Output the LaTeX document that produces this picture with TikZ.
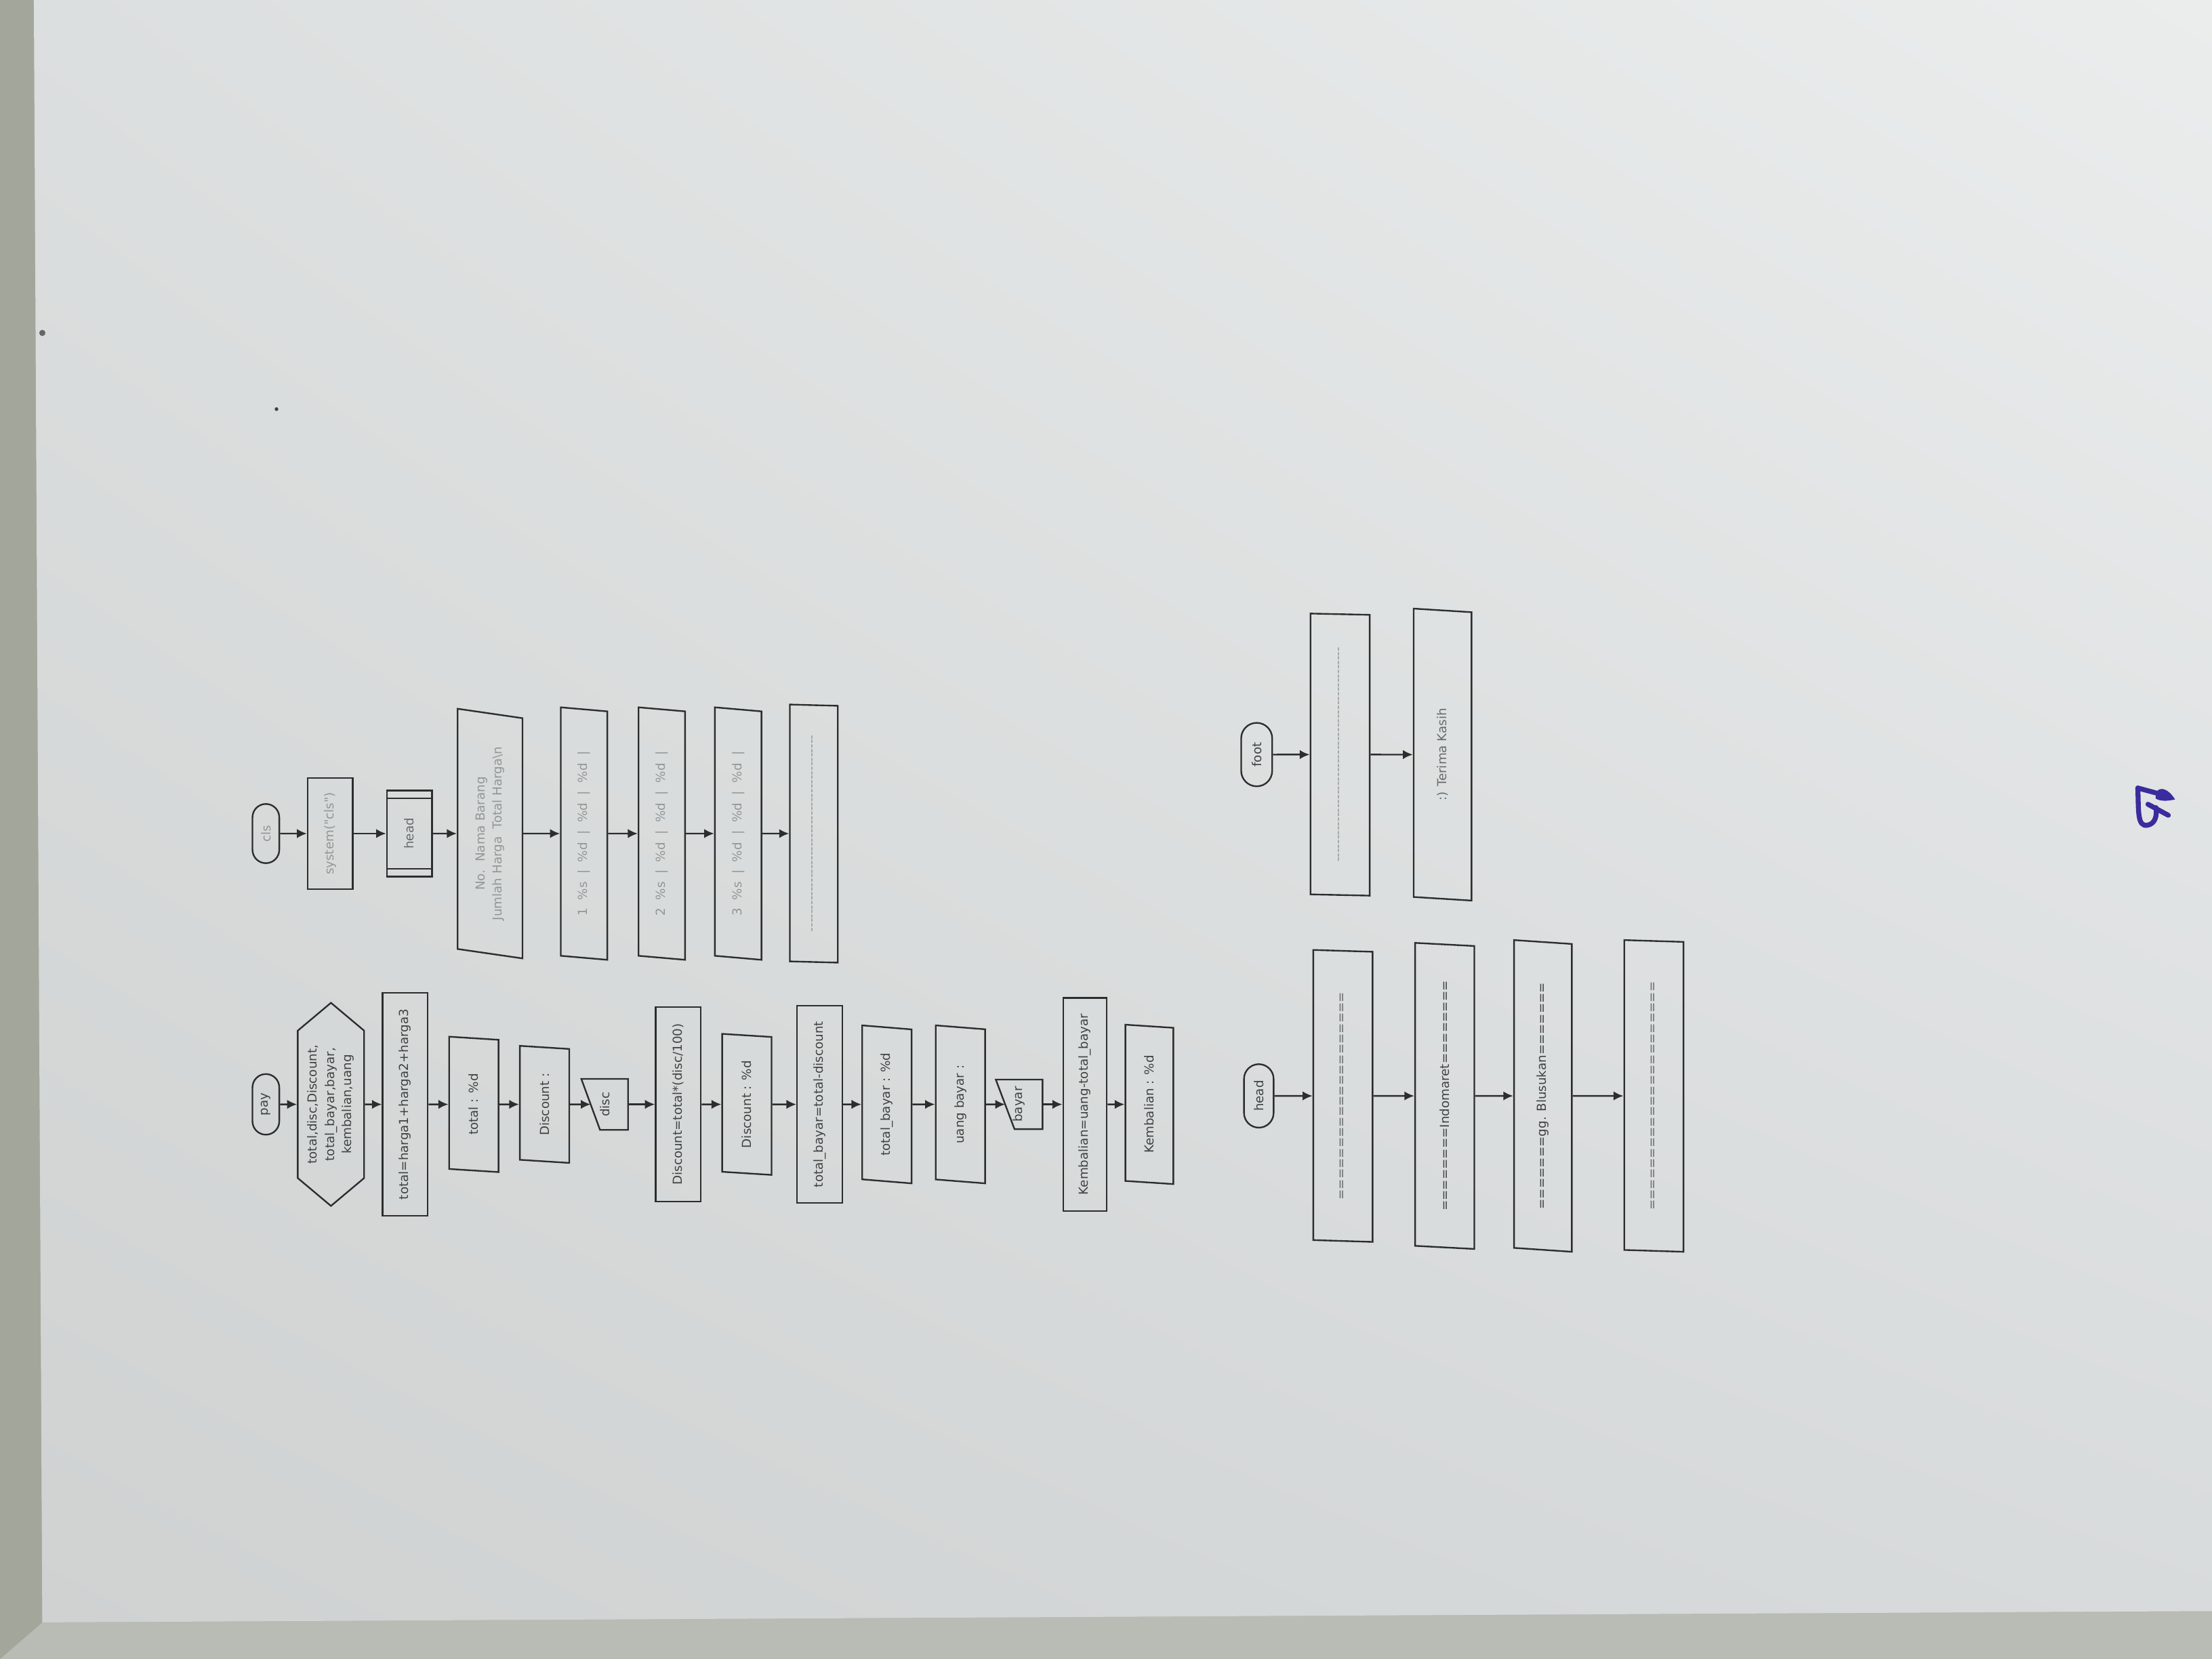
\documentclass[tikz,border=0pt]{standalone}
\usepackage{fontspec}
\newfontfamily\flowfont{DejaVu Sans}
\usetikzlibrary{arrows.meta, positioning, shapes.geometric, shapes.misc, shapes.symbols, calc, shadings}

\definecolor{linegray}{HTML}{2B2D2E}
\definecolor{inkgray}{HTML}{3F4243}
\definecolor{midgray}{HTML}{676B6C}
\definecolor{fadegray}{HTML}{929697}
\definecolor{penblue}{HTML}{3A2C9E}
\definecolor{deskleft}{HTML}{A2A69B}
\definecolor{deskbottom}{HTML}{B9BBB5}
\definecolor{paperUL}{HTML}{DCDFDF}
\definecolor{paperUR}{HTML}{EBEDED}
\definecolor{paperLL}{HTML}{CFD2D1}
\definecolor{paperLR}{HTML}{D8DBDC}

\newcommand{\hyrow}[1]{\foreach \i in {1,...,#1}{-}}

\begin{document}
\begin{tikzpicture}[
    x=0.02cm, y=-0.02cm,
    font=\flowfont\fontsize{5}{7}\selectfont,
    flow/.style={draw=linegray, line width=0.65pt, text=inkgray, inner sep=0pt, align=center},
    term/.style={flow, rounded rectangle, minimum width=8.6mm, minimum height=3.8mm},
    proc/.style={flow, rectangle, minimum height=6.4mm},
    io/.style={flow, trapezium, trapezium left angle=72, trapezium right angle=108, trapezium stretches body, minimum height=7mm},
    prep/.style={flow, signal, signal to=east and west, signal pointer angle=100, minimum height=9.4mm},
    manual/.style={flow, draw=none, rectangle, minimum width=7mm, minimum height=6.4mm},
    faint/.style={text=fadegray},
    outline/.style={draw=linegray, line width=0.65pt},
    arr/.style={-{Latex[length=1.4mm,width=1.3mm]}, draw=linegray, line width=0.65pt},
    penmark/.style={draw=penblue, line width=2pt, line cap=round, line join=round}
]

% ===== PHOTO BACKGROUND =====
\useasboundingbox (0,0) rectangle (1568,1176);
\fill[deskbottom] (0,0) rectangle (1568,1176);
\fill[deskleft] (0,0) -- (25,0) -- (30,1150) -- (0,1176) -- cycle;
\shade[upper left=paperUL, upper right=paperUR, lower left=paperLL, lower right=paperLR]
    (24,0) -- (1568,0) -- (1568,1142) -- (30,1150) -- cycle;

% specks on the sheet
\fill[black!75] (196,290) circle (1.3);
\fill[black!60] (30,236) circle (2.2);

% ===== FLOWCHARTS (page turned on its side) =====
\begin{scope}[x=0.2mm, y=0.2mm, rotate=90, transform shape]

% ----- pay -----
\node[term] (pay) at (-783,-188.5) {pay};
\node[prep, minimum width=28.8mm, below=2.4mm of pay] (vars) {total,disc,Discount,\\total\_bayar,bayar,\\kembalian,uang};
\node[proc, minimum width=31.6mm, below=2.4mm of vars] (sum) {total=harga1+harga2+harga3};
\node[io, minimum width=19.2mm, below=2.8mm of sum] (outTotal) {total : \%d};
\node[io, minimum width=16.6mm, below=2.8mm of outTotal] (outDisc) {Discount :};
\node[manual, below=1.6mm of outDisc] (inDisc) {disc};
\node[proc, minimum width=27.6mm, below=3.8mm of inDisc] (calcDisc) {Discount=total*(disc/100)};
\node[io, minimum width=20mm, below=2.8mm of calcDisc] (showDisc) {Discount : \%d};
\node[proc, minimum width=28mm, below=3.4mm of showDisc] (calcBayar) {total\_bayar=total-discount};
\node[io, minimum width=22.4mm, below=2.6mm of calcBayar] (showBayar) {total\_bayar : \%d};
\node[io, minimum width=22.4mm, below=3.2mm of showBayar] (askUang) {uang bayar :};
\node[manual, minimum width=6.8mm, below=1.4mm of askUang] (inBayar) {bayar};
\node[proc, minimum width=30.2mm, minimum height=6.2mm, below=2.8mm of inBayar] (calcKembali) {Kembalian=uang-total\_bayar};
\node[io, minimum width=22.6mm, minimum height=6.8mm, below=2.4mm of calcKembali] (showKembali) {Kembalian : \%d};

% ----- cls -----
\node[term, minimum width=8.4mm, faint] (cls) at (-591,-188.5) {cls};
\node[proc, minimum width=15.8mm, faint, below=3.8mm of cls] (sysCls) {system("cls")};
\node[proc, minimum width=12.2mm, text=midgray, below=4.6mm of sysCls] (callHead) {head};
\node[io, minimum width=35.4mm, minimum height=9.2mm, faint, below=3.4mm of callHead] (header) {No.\ \ Nama Barang\\Jumlah Harga\ \ Total Harga\textbackslash n};
\node[io, minimum width=35.8mm, minimum height=6.6mm, faint, below=5.2mm of header] (row1) {1 \ \%s \ | \ \%d \ | \ \%d \ | \ \%d \ |};
\node[io, minimum width=35.8mm, minimum height=6.6mm, faint, below=4.2mm of row1] (row2) {2 \ \%s \ | \ \%d \ | \ \%d \ | \ \%d \ |};
\node[io, minimum width=35.8mm, minimum height=6.6mm, faint, below=4mm of row2] (row3) {3 \ \%s \ | \ \%d \ | \ \%d \ | \ \%d \ |};
\node[io, minimum width=36.6mm, minimum height=6.8mm, faint, below=3.8mm of row3] (rowEnd) {\hyrow{44}};

% ----- head -----
\node[term, minimum width=9mm, minimum height=4.2mm] (head) at (-777,-892.5) {head};
\node[io, minimum width=41.4mm, minimum height=8.4mm, text=midgray, below=5.4mm of head] (hLine1) {====================};
\node[io, minimum width=43.4mm, minimum height=8.4mm, below=5.8mm of hLine1] (hLine2) {========Indomaret========};
\node[io, minimum width=44.2mm, minimum height=8.2mm, below=5.4mm of hLine2] (hLine3) {=======gg. Blusukan=======};
\node[io, minimum width=44.2mm, minimum height=8.4mm, text=midgray, below=7.2mm of hLine3] (hLine4) {======================};

% ----- foot -----
\node[term, minimum width=9mm, minimum height=4.4mm] (foot) at (-535,-891) {foot};
\node[io, minimum width=40mm, minimum height=8.4mm, faint, below=5.2mm of foot] (fLine) {\hyrow{48}};
\node[io, minimum width=41.4mm, minimum height=8.2mm, text=midgray, below=6mm of fLine] (thanks) {:) Terima Kasih};

% manual input and predefined process outlines
\foreach \m in {inDisc, inBayar}
    \draw[outline] (\m.south west) -- (\m.south east) -- (\m.north east) -- ($(\m.north west)!.4!(\m.south west)$) -- cycle;
\draw[outline] ($(callHead.north west)!.1!(callHead.north east)$) -- ($(callHead.south west)!.1!(callHead.south east)$);
\draw[outline] ($(callHead.north west)!.9!(callHead.north east)$) -- ($(callHead.south west)!.9!(callHead.south east)$);

% connectors
\foreach \a/\b in {pay/vars, vars/sum, sum/outTotal, outTotal/outDisc, inDisc/calcDisc,
    calcDisc/showDisc, showDisc/calcBayar, calcBayar/showBayar, showBayar/askUang,
    inBayar/calcKembali, calcKembali/showKembali,
    cls/sysCls, sysCls/callHead, callHead/header, header/row1, row1/row2, row2/row3, row3/rowEnd,
    head/hLine1, hLine1/hLine2, hLine2/hLine3, hLine3/hLine4,
    foot/fLine, fLine/thanks}
    \draw[arr] (\a) -- (\b);
\draw[arr] (outDisc) -- ($(inDisc.north)!.2!(inDisc.south)$);
\draw[arr] (askUang) -- ($(inBayar.north)!.2!(inBayar.south)$);

\end{scope}

% ===== PEN MARK =====
\draw[penmark] (1515.4,558.6) .. controls (1516,575) and (1515,586) .. (1522,585)
    .. controls (1528,584) and (1529,578) .. (1528.3,572.5);
\fill[penblue] (1528,562) .. controls (1531,557) and (1537,559) .. (1541.8,566.7)
    .. controls (1536,568) and (1531,568) .. (1528,566) -- cycle;
\draw[penmark] (1515.4,558.6) -- (1528,562);
\draw[penmark] (1522.6,570.1) -- (1537,577.9);

\end{tikzpicture}
\end{document}
